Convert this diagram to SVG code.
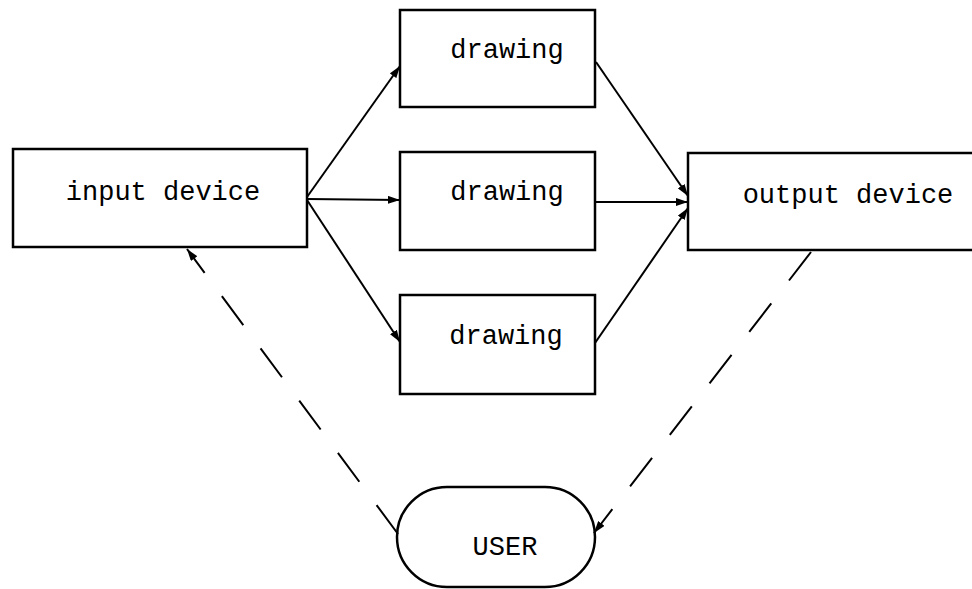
<svg xmlns="http://www.w3.org/2000/svg" width="972" height="589" viewBox="0 0 972 589">
<style>
.box{fill:#fff;stroke:#000;stroke-width:2.5}
.lbl{font-family:"Liberation Mono","DejaVu Sans Mono",monospace;font-size:27px;fill:#000;text-anchor:middle}
.edge{fill:none;stroke:#000;stroke-width:2}
.dash{stroke-dasharray:36 29}
</style>
<defs>
<marker id="ah" viewBox="0 0 12 8" refX="12" refY="4" markerWidth="12" markerHeight="8" markerUnits="userSpaceOnUse" orient="auto">
<path d="M0,0 L12,4 L0,8 Z" fill="#000"/>
</marker>
</defs>
<rect width="972" height="589" fill="#fff"/>
<g id="input">
<rect class="box" x="13" y="149" width="294" height="98"/>
<text class="lbl" x="163" y="200">input device</text>
</g>
<g id="drawing1">
<rect class="box" x="400" y="10" width="195" height="97"/>
<text class="lbl" x="507" y="58">drawing</text>
</g>
<g id="drawing2">
<rect class="box" x="400" y="152" width="195" height="98"/>
<text class="lbl" x="507" y="200">drawing</text>
</g>
<g id="drawing3">
<rect class="box" x="400" y="295" width="195" height="99"/>
<text class="lbl" x="506" y="344">drawing</text>
</g>
<g id="output">
<rect class="box" x="688" y="153" width="300" height="97"/>
<text class="lbl" x="848" y="203">output device</text>
</g>
<g id="user">
<rect class="box" x="397" y="487" width="198" height="100" rx="50" ry="50"/>
<text class="lbl" x="505" y="555">USER</text>
</g>
<g id="connectors">
<line class="edge" x1="307" y1="197" x2="400" y2="66" marker-end="url(#ah)"/>
<line class="edge" x1="307" y1="199" x2="400" y2="200" marker-end="url(#ah)"/>
<line class="edge" x1="307" y1="200" x2="400" y2="342" marker-end="url(#ah)"/>
<line class="edge" x1="596" y1="62" x2="688" y2="196" marker-end="url(#ah)"/>
<line class="edge" x1="595" y1="202" x2="688" y2="202" marker-end="url(#ah)"/>
<line class="edge" x1="595" y1="343" x2="688" y2="208" marker-end="url(#ah)"/>
<line class="edge dash" x1="398" y1="534" x2="187" y2="249" marker-end="url(#ah)"/>
<line class="edge dash" x1="811" y1="252" x2="594" y2="533" marker-end="url(#ah)"/>
</g>
</svg>
